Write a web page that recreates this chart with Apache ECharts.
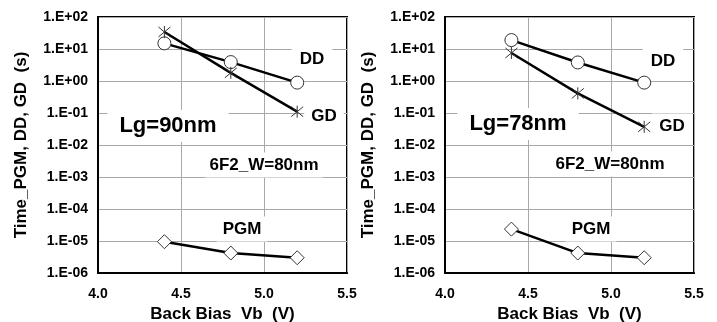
<!DOCTYPE html>
<html>
<head>
<meta charset="utf-8">
<script src="https://cdn.jsdelivr.net/npm/echarts@6/dist/echarts.min.js"></script>
<style>
  html, body { margin: 0; padding: 0; background: #fff; }
  #chart { width: 717px; height: 322px; }
</style>
</head>
<body>
<div id="chart"></div>
<script>
// ---- data ----
var backBias = [4.4, 4.8, 5.2];
var dd90 = [15, 3.9, 0.89];
var gd90 = [34, 1.8, 0.11];
var pgm90 = [9.5e-6, 4.2e-6, 3.0e-6];
var dd78 = [19, 3.8, 0.89];
var gd78 = [7.5, 0.41, 0.037];
var pgm78 = [2.35e-5, 4.2e-6, 3.0e-6];
var xTicks = [4.0, 4.5, 5.0, 5.5];
var yTickExponents = [-6, -5, -4, -3, -2, -1, 0, 1, 2];
var panelLabels = ['Lg=90nm', 'Lg=78nm'];
var noteLabel = '6F2_W=80nm';
var seriesNames = ['DD', 'GD', 'PGM'];

var FONT = '"Liberation Sans", Arial, sans-serif';
var chart = echarts.init(document.getElementById('chart'), null, {renderer: 'canvas'});

function pairs(xs, ys) { return xs.map(function (x, i) { return [x, ys[i]]; }); }
function fmtExp(v) {
  var e = Math.round(Math.log10(v));
  var s = Math.abs(e) < 10 ? '0' + Math.abs(e) : '' + Math.abs(e);
  return '1.E' + (e >= 0 ? '+' : '-') + s;
}
var starPath = 'path://M0,0L10,10M10,0L0,10M5,-1L5,11';

function xAx(gi) {
  return {
    gridIndex: gi, type: 'value', min: xTicks[0], max: xTicks[xTicks.length - 1], interval: 0.5,
    name: 'Back Bias  Vb  (V)', nameLocation: 'middle', nameGap: 31,
    nameTextStyle: {fontFamily: FONT, fontWeight: 'bold', fontSize: 17, color: '#000'},
    axisLine: {show: true, lineStyle: {color: '#000', width: 2}},
    axisTick: {show: false},
    axisLabel: {margin: 14, fontFamily: FONT, fontWeight: 'bold', fontSize: 14, color: '#000',
      formatter: function (v) { return v.toFixed(1); }},
    splitLine: {show: true, lineStyle: {color: '#a8a8a8', width: 1}}
  };
}
function yAx(gi) {
  return {
    gridIndex: gi, type: 'log', logBase: 10,
    min: Math.pow(10, yTickExponents[0]), max: Math.pow(10, yTickExponents[yTickExponents.length - 1]),
    interval: 1,
    name: 'Time_PGM, DD, GD  (s)', nameLocation: 'middle', nameGap: 68,
    nameTextStyle: {fontFamily: FONT, fontWeight: 'bold', fontSize: 17, color: '#000'},
    axisLine: {show: true, lineStyle: {color: '#000', width: 2}},
    axisTick: {show: false},
    axisLabel: {margin: 10, fontFamily: FONT, fontWeight: 'bold', fontSize: 14, color: '#000',
      formatter: fmtExp},
    splitLine: {show: true, lineStyle: {color: '#a8a8a8', width: 1}}
  };
}
function mkSeries(gi, name, ys, symbol, size) {
  return {
    type: 'line', name: name, xAxisIndex: gi, yAxisIndex: gi,
    data: pairs(backBias, ys),
    symbol: symbol, symbolSize: size, showAllSymbol: true,
    lineStyle: {color: '#000', width: 2.5},
    itemStyle: {color: '#fff', borderColor: '#333', borderWidth: 1},
    z: 3
  };
}
function mkStar(gi, ys) {
  return {
    type: 'line', name: 'GD', xAxisIndex: gi, yAxisIndex: gi,
    data: pairs(backBias, ys),
    symbol: starPath, symbolSize: 12, showAllSymbol: true,
    lineStyle: {color: '#000', width: 2.5},
    itemStyle: {color: 'none', borderColor: '#333', borderWidth: 1},
    z: 4
  };
}

function txt(x, y, s, size, padH, padV) {
  return {
    type: 'text', x: x, y: y, z: 2,
    style: {
      text: s, fontFamily: FONT, fontWeight: 'bold', fontSize: size, fill: '#000',
      align: 'center', verticalAlign: 'middle',
      backgroundColor: '#fff', padding: [padV, padH]
    }
  };
}

var option = {
  animation: false,
  backgroundColor: '#fff',
  grid: [
    {left: 98, right: 370, top: 17, bottom: 49, outerBoundsMode: 'none', containLabel: false,
      show: true, borderColor: '#000', borderWidth: 2, backgroundColor: 'transparent'},
    {left: 445, right: 23, top: 17, bottom: 49, outerBoundsMode: 'none', containLabel: false,
      show: true, borderColor: '#000', borderWidth: 2, backgroundColor: 'transparent'}
  ],
  xAxis: [xAx(0), xAx(1)],
  yAxis: [yAx(0), yAx(1)],
  series: [
    mkSeries(0, seriesNames[0], dd90, 'circle', 13),
    mkStar(0, gd90),
    mkSeries(0, seriesNames[2], pgm90, 'diamond', 14),
    mkSeries(1, seriesNames[0], dd78, 'circle', 13),
    mkStar(1, gd78),
    mkSeries(1, seriesNames[2], pgm78, 'diamond', 14)
  ],
  graphic: [
    txt(312, 59, seriesNames[0], 17, 8, 4),
    txt(324, 116, seriesNames[1], 17, 7, 4),
    txt(168, 126, panelLabels[0], 22, 12, 5),
    txt(264, 165, noteLabel, 17, 4, 4),
    txt(242, 229, seriesNames[2], 17, 6, 4),
    txt(663, 61, seriesNames[0], 17, 8, 4),
    txt(672, 126, seriesNames[1], 17, 7, 4),
    txt(518, 124, panelLabels[1], 22, 12, 5),
    txt(610, 164, noteLabel, 17, 4, 4),
    txt(591, 229, seriesNames[2], 17, 6, 4)
  ]
};
chart.setOption(option);
</script>
</body>
</html>
